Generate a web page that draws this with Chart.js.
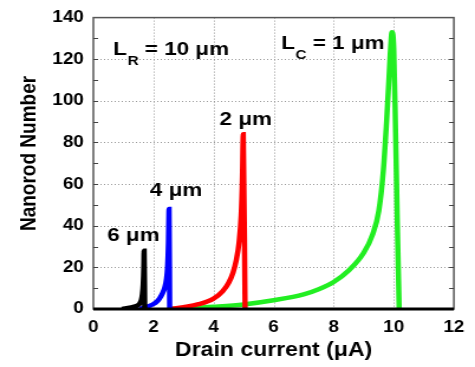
<!DOCTYPE html>
<html>
<head>
<meta charset="utf-8">
<script src="https://cdn.jsdelivr.net/npm/chart.js@4.4.1/dist/chart.umd.min.js"></script>
<style>
  html, body { margin: 0; padding: 0; background: #fff; }
  canvas { display: block; }
</style>
</head>
<body>
<!-- the original figure is stretched sideways, so the canvas is drawn narrow and scaled up by css -->
<canvas id="chart" width="402" height="367" style="width:475px;height:367px"></canvas>
<script>
// nanorod number vs drain current, L_R = 10 um, one curve per L_C
var xTicks = [0, 2, 4, 6, 8, 10, 12];
var yTicks = [0, 20, 40, 60, 80, 100, 120, 140];

var x6 = [0.95, 1.1, 1.2, 1.3, 1.4, 1.5, 1.55, 1.6, 1.63, 1.66, 1.68, 1.69, 1.71];
var y6 = [0, 0.4, 0.6, 0.9, 1.3, 2.0, 2.8, 4.5, 7, 12, 20, 28, 0];

var x4 = [1.55, 1.7, 1.8, 1.9, 2.0, 2.1, 2.2, 2.3, 2.38, 2.43, 2.47, 2.5, 2.52, 2.54];
var y4 = [0, 0.8, 1.2, 1.7, 2.4, 3.4, 5, 7.5, 10.5, 14, 20, 32, 48, 0];

var x2 = [2.55, 3.0, 3.5, 4.0, 4.3, 4.5, 4.65, 4.75, 4.85, 4.92, 4.96, 4.99, 5.05];
var y2 = [0, 0.9, 2.3, 5, 8.5, 12.5, 17.5, 23, 32, 45, 62, 84, 0];

var x1 = [2.55, 3, 4, 5, 6, 7, 7.5, 8, 8.5, 9, 9.3, 9.5, 9.65, 9.76, 9.83, 9.88, 9.94, 10.0, 10.06, 10.12, 10.18];
var y1 = [0, 0.3, 1.1, 2.2, 4.2, 7, 9.5, 13, 18.5, 27, 36, 47, 66, 90, 108, 122, 133, 125, 85, 40, 0];

var font = "'Liberation Sans', Arial, Helvetica, sans-serif";
Chart.defaults.font.family = font;
Chart.defaults.color = '#000';

var pts = (xs, ys) => xs.map((v, i) => ({x: v, y: ys[i]}));

var curve = (xs, ys, color) => ({
    data: pts(xs, ys),
    borderColor: color,
    backgroundColor: color,
    borderWidth: 4.5,
    pointRadius: 0,
    cubicInterpolationMode: 'monotone',
    fill: false
});

// text labels in data units
var notes = [
    {x: 0.66, y: 121.9, main: 'L', sub: 'R', rest: ' = 10 μm'},
    {x: 6.25, y: 124.8, main: 'L', sub: 'C', rest: ' = 1 μm'},
    {x: 4.2, y: 88.6, main: '2 μm'},
    {x: 1.88, y: 54.3, main: '4 μm'},
    {x: 0.46, y: 32.9, main: '6 μm'}
];

// dotted grid, drawn here so it sits under the curves
var dots = {
    id: 'dots',
    beforeDatasetsDraw(chart) {
        var ctx = chart.ctx, a = chart.chartArea;
        var xs = chart.scales.x, ys = chart.scales.y;
        ctx.save();
        ctx.strokeStyle = '#999';
        ctx.lineWidth = 1;
        ctx.setLineDash([1, 2]);
        ctx.beginPath();
        xTicks.slice(1, -1).forEach(v => {
            var px = Math.round(xs.getPixelForValue(v)) + 0.5;
            ctx.moveTo(px, a.top); ctx.lineTo(px, a.bottom);
        });
        yTicks.slice(1, -1).forEach(v => {
            var py = Math.round(ys.getPixelForValue(v)) + 0.5;
            ctx.moveTo(a.left, py); ctx.lineTo(a.right, py);
        });
        ctx.stroke();
        ctx.restore();
    }
};

var extras = {
    id: 'extras',
    afterDraw(chart) {
        var ctx = chart.ctx, a = chart.chartArea;
        var xs = chart.scales.x, ys = chart.scales.y;
        ctx.save();
        // frame
        ctx.strokeStyle = '#555';
        ctx.lineWidth = 1.5;
        ctx.strokeRect(a.left, a.top, a.right - a.left, a.bottom - a.top);
        ctx.strokeStyle = '#000';
        ctx.lineWidth = 3;
        ctx.beginPath();
        ctx.moveTo(a.left, a.bottom);
        ctx.lineTo(a.right, a.bottom);
        ctx.stroke();
        // inward ticks on y, every 10
        ctx.strokeStyle = '#444';
        ctx.lineWidth = 1;
        ctx.beginPath();
        for (var v = 10; v < 140; v += 10) {
            var py = Math.round(ys.getPixelForValue(v)) + 0.5;
            ctx.moveTo(a.left, py); ctx.lineTo(a.left + 4, py);
            ctx.moveTo(a.right - 4, py); ctx.lineTo(a.right, py);
        }
        ctx.stroke();
        // y title, sits a bit above the middle in the original
        ctx.save();
        ctx.translate(29.7, 153.5);
        ctx.rotate(-Math.PI / 2);
        ctx.font = 'bold 19px ' + font;
        ctx.fillStyle = '#000';
        ctx.textAlign = 'center';
        ctx.textBaseline = 'alphabetic';
        ctx.fillText('Nanorod Number', 0, 0);
        ctx.restore();
        // labels
        ctx.fillStyle = '#000';
        ctx.textBaseline = 'alphabetic';
        ctx.textAlign = 'left';
        notes.forEach(n => {
            var px = xs.getPixelForValue(n.x), py = ys.getPixelForValue(n.y);
            ctx.font = 'bold 19px ' + font;
            ctx.fillText(n.main, px, py);
            px += ctx.measureText(n.main).width;
            if (n.sub) {
                ctx.font = 'bold 13px ' + font;
                ctx.fillText(n.sub, px + 0.5, py + 10);
                px += ctx.measureText(n.sub).width + 0.5;
                ctx.font = 'bold 19px ' + font;
                ctx.fillText(n.rest, px, py);
            }
        });
        ctx.restore();
    }
};

new Chart(document.getElementById('chart').getContext('2d'), {
    type: 'line',
    data: {
        datasets: [
            curve(x6, y6, '#000000'),
            curve(x4, y4, '#0000ff'),
            curve(x2, y2, '#ff0000'),
            curve(x1, y1, '#22ee22')
        ]
    },
    options: {
        responsive: false,
        animation: false,
        layout: {padding: {top: 15, right: 15, left: 0, bottom: 0}},
        plugins: {legend: {display: false}, tooltip: {enabled: false}},
        scales: {
            x: {
                type: 'linear',
                min: 0, max: 12,
                afterBuildTicks: s => { s.ticks = xTicks.map(v => ({value: v})); },
                afterFit: s => { s.height = 58; },
                border: {display: false},
                grid: {display: false, drawTicks: false},
                ticks: {padding: 9, font: {size: 16, weight: 'bold'}, color: '#000'},
                title: {display: true, text: 'Drain current (μA)', padding: {top: 0, bottom: 5},
                        font: {size: 19.5, weight: 'bold'}, color: '#000'}
            },
            y: {
                type: 'linear',
                min: 0, max: 140,
                afterBuildTicks: s => { s.ticks = yTicks.map(v => ({value: v})); },
                afterFit: s => { s.width = 79; },
                border: {display: false},
                grid: {display: false, drawTicks: false},
                ticks: {padding: 8, font: {size: 16, weight: 'bold'}, color: '#000'},
                title: {display: false}
            }
        }
    },
    plugins: [dots, extras]
});
</script>
</body>
</html>
